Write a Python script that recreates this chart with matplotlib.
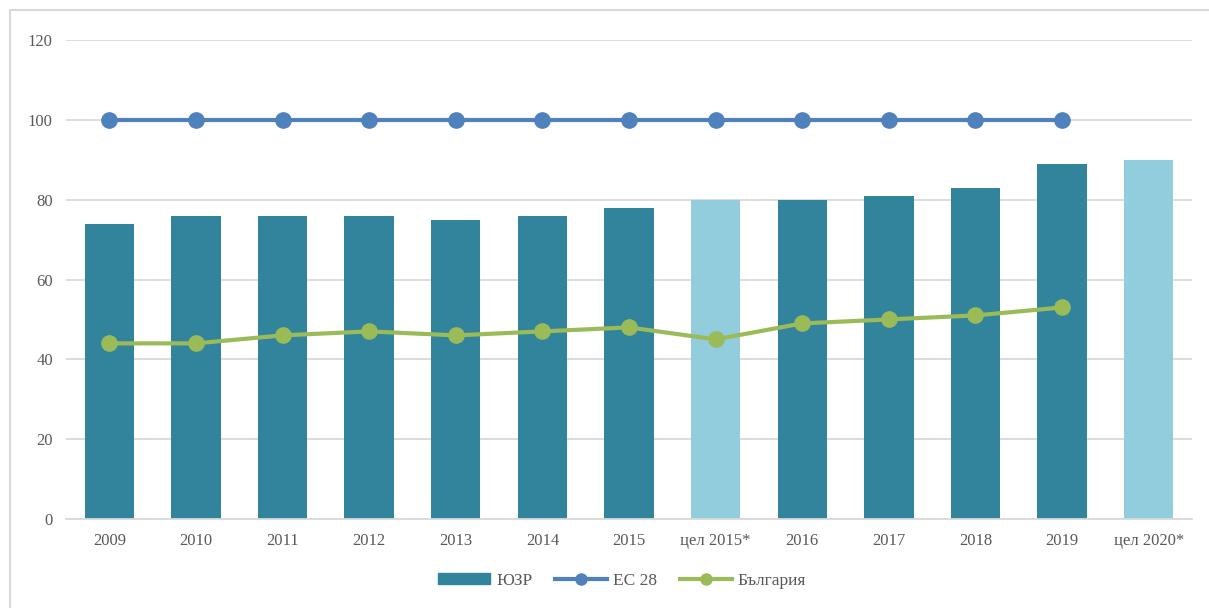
import matplotlib
matplotlib.use("Agg")
import matplotlib.pyplot as plt
from matplotlib.patches import Rectangle
from matplotlib.lines import Line2D
import numpy as np

categories = ["2009", "2010", "2011", "2012", "2013", "2014", "2015", "цел 2015*",
              "2016", "2017", "2018", "2019", "цел 2020*"]
yuzr = [74, 76, 76, 76, 75, 76, 78, 80, 80, 81, 83, 89, 90]
es28 = [100, 100, 100, 100, 100, 100, 100, 100, 100, 100, 100, 100, None]
bulgaria = [44, 44, 46, 47, 46, 47, 48, 45, 49, 50, 51, 53, None]
target_labels = ["цел 2015*", "цел 2020*"]

plt.rcParams['font.family'] = ['Liberation Serif', 'DejaVu Serif']

fig = plt.figure(figsize=(12.09, 6.08), dpi=100)
ax = fig.add_axes([66/1209, 1-519/608, (1192-66)/1209, (519-40)/608])

x = np.arange(len(categories))
dark = "#31849B"
light = "#92CDDD"
colors = [light if c in target_labels else dark for c in categories]
bars = ax.bar(x, yuzr, width=0.57, color=colors, zorder=2, label="ЮЗР")

es = np.array([np.nan if v is None else v for v in es28], dtype=float)
bg = np.array([np.nan if v is None else v for v in bulgaria], dtype=float)
ax.plot(x, es, color="#4F81BD", lw=3, marker="o", ms=11, zorder=3)
ax.plot(x, bg, color="#9BBB59", lw=3, marker="o", ms=11, zorder=3)

ax.set_xlim(-0.5, len(categories) - 0.5)
ax.set_ylim(0, 120)
ax.set_yticks(range(0, 121, 20))
ax.yaxis.grid(True, color="#D9D9D9", lw=1.3, zorder=0)
ax.set_axisbelow(True)
for s in ["top", "right", "left"]:
    ax.spines[s].set_visible(False)
ax.spines["bottom"].set_color("#D9D9D9")
ax.spines["bottom"].set_linewidth(1.3)
ax.set_xticks(x)
ax.set_xticklabels(categories)
ax.tick_params(axis="both", length=0, labelsize=12, colors="#595959")
ax.tick_params(axis="x", pad=10)
ax.tick_params(axis="y", pad=9.5)

h_bar = Rectangle((0, 0), 1, 1, color=dark)
h_es = Line2D([], [], color="#4F81BD", lw=3, marker="o", ms=8)
h_bg = Line2D([], [], color="#9BBB59", lw=3, marker="o", ms=8)
leg = fig.legend([h_bar, h_es, h_bg], ["ЮЗР", "ЕС 28", "България"],
                 loc="center", bbox_to_anchor=(622/1209, 1-581/608), ncol=3, frameon=False,
                 fontsize=12.5, handlelength=3.0, handleheight=0.6,
                 columnspacing=1.3, handletextpad=0.35)
for t in leg.get_texts():
    t.set_color("#595959")

fig.patches.append(Rectangle((10/1209, -0.1), 1.2, 1-10/608+0.1, transform=fig.transFigure,
                             fill=False, edgecolor="#D9D9D9", lw=1.5))

fig.savefig("out.png", dpi=100)
